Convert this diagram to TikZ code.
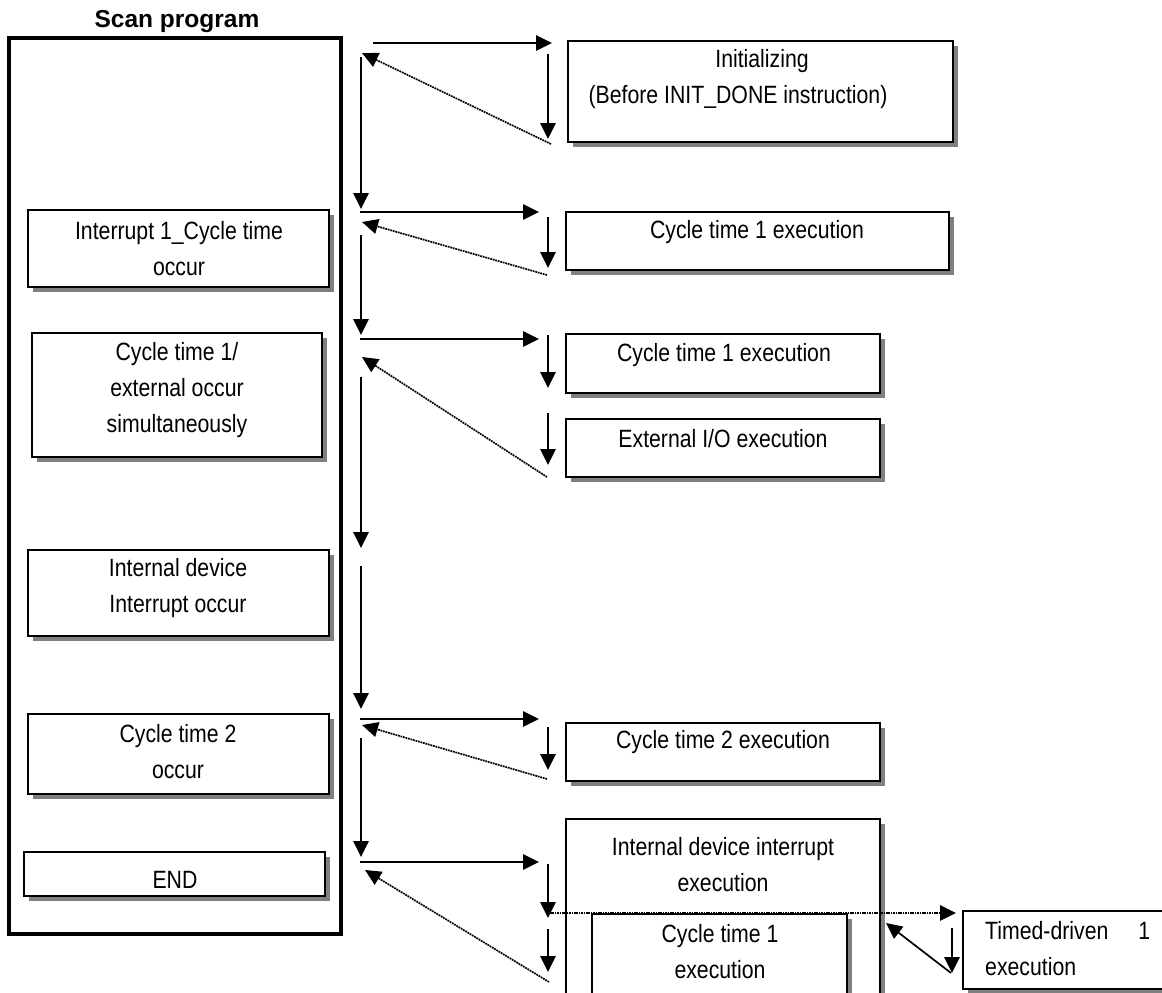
\documentclass[tikz,border=0pt]{standalone}
\usepackage{fontspec}
\setmainfont{Liberation Sans}[FakeStretch=0.85]
\newfontfamily\titlefont{Liberation Sans}
\usepackage{tikz}
\usetikzlibrary{arrows.meta,shadows}
\definecolor{shade}{RGB}{128,128,128}
\tikzset{
  box/.style={draw,line width=2.2pt,fill=white,inner sep=0pt,
    drop shadow={shadow xshift=5pt,shadow yshift=-5pt,fill=shade,opacity=1}},
  txt/.style={inner sep=0pt,align=center,font=\fontsize{25}{36}\selectfont},
  flow/.style={line width=2.7pt,-{Triangle[length=16pt,width=15pt]}},
  back/.style={line width=1.7pt,dash pattern=on 1.8pt off 0.8pt,-{Triangle[length=16pt,width=15pt]}}
}

\begin{document}
\begin{tikzpicture}[x=1pt,y=-1pt]
  \useasboundingbox (0,0) rectangle (1162,993); \clip (0,0) rectangle (1162,993);
  % scan program column
  \node[font=\fontsize{24.5}{28}\titlefont\bfseries] (title) at (177,22) {Scan program};
  \node[draw,line width=3.2pt,minimum width=332pt,minimum height=896pt] (scan) at (175,486) {};
  \node[box,minimum width=301pt,minimum height=77pt] (int1) at (178.5,248.5) {};
  \node[box,minimum width=290pt,minimum height=124pt] (simul) at (177,395) {};
  \node[box,minimum width=301pt,minimum height=86pt] (idev) at (178.5,593) {};
  \node[box,minimum width=301pt,minimum height=80pt] (cyc2) at (178.5,754) {};
  \node[box,minimum width=301pt,minimum height=44pt] (endb) at (174.5,874) {};
  \node[txt] (int1t) at (179,249) {Interrupt 1\_Cycle time\\occur};
  \node[txt] (simult) at (177,390) {Cycle time 1/\\external occur\\simultaneously};
  \node[txt] (idevt) at (178,588) {Internal device\\Interrupt occur};
  \node[txt] (cyc2t) at (178,752) {Cycle time 2\\occur};
  \node[txt] (endt) at (175,880) {END};
  % executed tasks
  \node[box,minimum width=385pt,minimum height=101pt] (init) at (760.5,91.5) {};
  \node[box,minimum width=383pt,minimum height=58pt] (ex1) at (757.5,241) {};
  \node[box,minimum width=314pt,minimum height=59pt] (ex2) at (723,363.5) {};
  \node[box,minimum width=314pt,minimum height=58pt] (exio) at (723,448) {};
  \node[box,minimum width=314pt,minimum height=58pt] (ex3) at (723,752) {};
  \node[box,minimum width=314pt,minimum height=191pt] (exdev) at (723,914.5) {};
  \node[box,minimum width=255pt,minimum height=96pt] (ex4) at (719.5,962) {};
  \node[box,minimum width=212pt,minimum height=78pt] (timed) at (1069,950) {};
  \node[txt] (initt) at (762,79.5) {Initializing\\(Before INIT\_DONE instruction)\hspace*{48pt}};
  \node[txt] (ex1t) at (757,232) {Cycle time 1 execution};
  \node[txt] (ex2t) at (724,355) {Cycle time 1 execution};
  \node[txt] (exiot) at (723,439) {External I/O execution};
  \node[txt] (ex3t) at (723,742) {Cycle time 2 execution};
  \node[txt] (exdevt) at (723,865) {Internal device interrupt\\execution};
  \node[txt] (ex4t) at (720,952) {Cycle time 1\\execution};
  \node[txt,align=left,anchor=west] (timedt) at (985,948.5) {Timed-driven\hspace{30pt}1\\execution};
  % arrow ends
  \foreach \n/\x/\y in {v1-a/361/57, v1-b/361/209, v2-a/361/235, v2-b/361/335, v3-a/361/377, v3-b/361/548,
    v4-a/361/566, v4-b/361/709, v5-a/361/738, v5-b/361/857,
    h1-a/373/43, h1-b/552/43, h2-a/360/212, h2-b/539/212, h3-a/360/339, h3-b/539/339,
    h4-a/360/719, h4-b/539/719, h5-a/360/862, h5-b/539/862,
    d1-a/548/54, d1-b/548/139, d2-a/548/217, d2-b/548/268, d3-a/548/335, d3-b/548/388,
    d4-a/548/413, d4-b/548/465, d5-a/548/727, d5-b/548/770, d6-a/548/864, d6-b/548/918,
    d7-a/548/929, d7-b/548/972, d8-a/952/928, d8-b/952/973,
    r1-a/551/144, r1-b/362/53, r2-a/547/275, r2-b/362/222, r3-a/547/477, r3-b/362/357,
    r4-a/547/779, r4-b/362/725, r5-a/549/982, r5-b/365/870, r6-a/951/973, r6-b/886/923,
    dt-a/550/913, dt-b/956/913}
    \coordinate (\n) at (\x,\y);
  \foreach \s in {v1,v2,v3,v4,v5,h1,h2,h3,h4,h5,d1,d2,d3,d4,d5,d6,d7,d8}
    \draw[flow] (\s-a) -- (\s-b);
  \foreach \s in {r1,r2,r3,r4,r5} \draw[back] (\s-a) -- (\s-b);
  \draw[flow,line width=1.7pt] (r6-a) -- (r6-b);
  \draw[flow,dash pattern=on 1.5pt off 0.9pt] (dt-a) -- (dt-b);
\end{tikzpicture}
\end{document}
